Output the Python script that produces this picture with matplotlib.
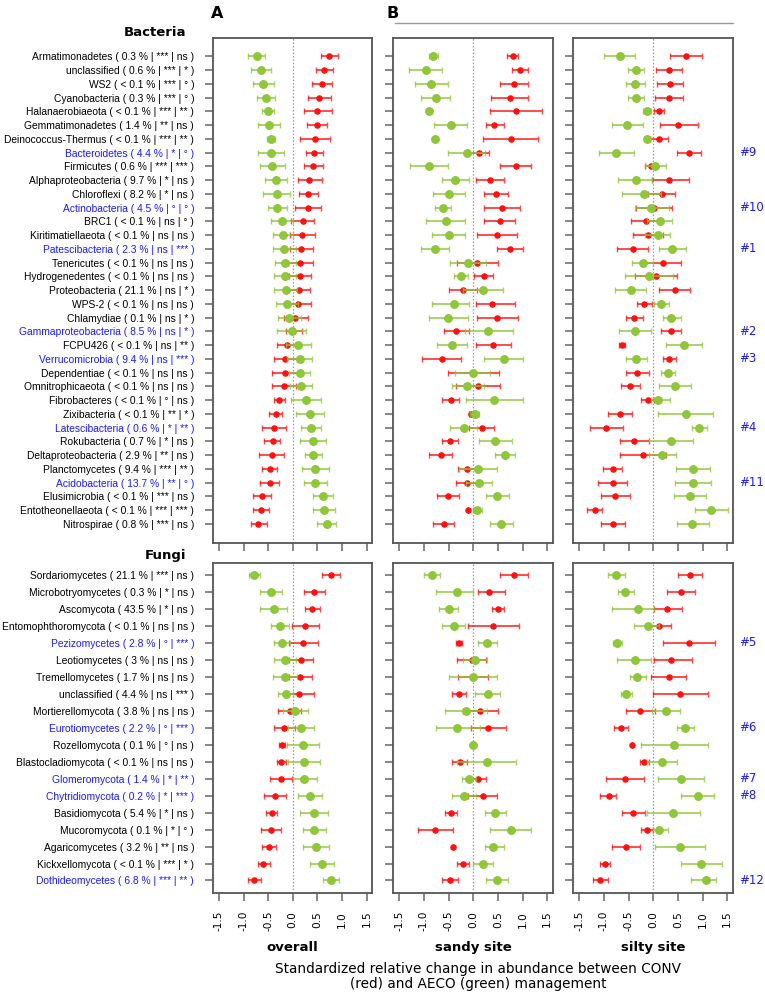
import numpy as np
import matplotlib
matplotlib.use("Agg")
import matplotlib.pyplot as plt
from matplotlib.transforms import blended_transform_factory

# ---- taxa labels: name, relative abundance, signif. sandy, signif. silty ----
bac_names = ["Armatimonadetes", "unclassified", "WS2", "Cyanobacteria", "Halanaerobiaeota",
             "Gemmatimonadetes", "Deinococcus-Thermus", "Bacteroidetes", "Firmicutes",
             "Alphaproteobacteria", "Chloroflexi", "Actinobacteria", "BRC1", "Kiritimatiellaeota",
             "Patescibacteria", "Tenericutes", "Hydrogenedentes", "Proteobacteria", "WPS-2",
             "Chlamydiae", "Gammaproteobacteria", "FCPU426", "Verrucomicrobia", "Dependentiae",
             "Omnitrophicaeota", "Fibrobacteres", "Zixibacteria", "Latescibacteria", "Rokubacteria",
             "Deltaproteobacteria", "Planctomycetes", "Acidobacteria", "Elusimicrobia",
             "Entotheonellaeota", "Nitrospirae"]
bac_abund = ["0.3", "0.6", "< 0.1", "0.3", "< 0.1", "1.4", "< 0.1", "4.4", "0.6", "9.7", "8.2",
             "4.5", "< 0.1", "< 0.1", "2.3", "< 0.1", "< 0.1", "21.1", "< 0.1", "0.1", "8.5",
             "< 0.1", "9.4", "< 0.1", "< 0.1", "< 0.1", "< 0.1", "0.6", "0.7", "2.9", "9.4",
             "13.7", "< 0.1", "< 0.1", "0.8"]
bac_sig1 = ["***", "***", "***", "***", "***", "**", "***", "*", "***", "*", "*", "°", "ns", "ns",
            "ns", "ns", "ns", "ns", "ns", "ns", "ns", "ns", "ns", "ns", "ns", "°", "**", "*", "*",
            "**", "***", "**", "***", "***", "***"]
bac_sig2 = ["ns", "*", "°", "°", "**", "ns", "**", "°", "***", "ns", "ns", "°", "°", "ns", "***",
            "ns", "ns", "*", "ns", "*", "*", "**", "***", "ns", "ns", "ns", "*", "**", "ns", "ns",
            "**", "°", "ns", "***", "ns"]
bac_blue = {8: "#9", 12: "#10", 15: "#1", 21: "#2", 23: "#3", 28: "#4", 32: "#11"}

fun_names = ["Sordariomycetes", "Microbotryomycetes", "Ascomycota", "Entomophthoromycota",
             "Pezizomycetes", "Leotiomycetes", "Tremellomycetes", "unclassified",
             "Mortierellomycota", "Eurotiomycetes", "Rozellomycota", "Blastocladiomycota",
             "Glomeromycota", "Chytridiomycota", "Basidiomycota", "Mucoromycota",
             "Agaricomycetes", "Kickxellomycota", "Dothideomycetes"]
fun_abund = ["21.1", "0.3", "43.5", "< 0.1", "2.8", "3", "1.7", "4.4", "3.8", "2.2", "0.1",
             "< 0.1", "1.4", "0.2", "5.4", "0.1", "3.2", "< 0.1", "6.8"]
fun_sig1 = ["***", "*", "*", "ns", "°", "ns", "ns", "ns", "ns", "°", "°", "ns", "*", "*", "*",
            "*", "**", "***", "***"]
fun_sig2 = ["ns", "ns", "ns", "ns", "***", "ns", "ns", "***", "ns", "***", "ns", "ns", "**",
            "***", "ns", "°", "ns", "*", "**"]
fun_blue = {5: "#5", 10: "#6", 13: "#7", 14: "#8", 19: "#12"}

# ---- effect estimates: (mean, lower, upper) ----
bac_all_red = [(0.74, 0.57, 0.91), (0.635, 0.47, 0.81), (0.59, 0.40, 0.79), (0.54, 0.30, 0.78),
               (0.50, 0.22, 0.79), (0.49, 0.28, 0.69), (0.45, 0.155, 0.75), (0.43, 0.26, 0.61),
               (0.41, 0.22, 0.615), (0.34, 0.10, 0.59), (0.32, 0.135, 0.52), (0.31, 0.055, 0.58),
               (0.20, -0.03, 0.44), (0.195, -0.05, 0.46), (0.175, -0.06, 0.42), (0.14, -0.10, 0.42),
               (0.15, -0.08, 0.38), (0.12, -0.11, 0.35), (0.10, -0.135, 0.365), (0.055, -0.175, 0.32),
               (0.015, -0.14, 0.18), (-0.115, -0.33, 0.10), (-0.15, -0.38, 0.08), (-0.155, -0.425, 0.10),
               (-0.175, -0.42, 0.07), (-0.28, -0.385, -0.15), (-0.35, -0.49, -0.21), (-0.38, -0.615, -0.135),
               (-0.41, -0.575, -0.25), (-0.425, -0.68, -0.17), (-0.465, -0.63, -0.31), (-0.47, -0.66, -0.27),
               (-0.62, -0.80, -0.44), (-0.64, -0.80, -0.49), (-0.70, -0.85, -0.53)]
bac_all_green = [(-0.736, -0.90, -0.57), (-0.65, -0.845, -0.45), (-0.595, -0.80, -0.39), (-0.55, -0.72, -0.365),
                 (-0.51, -0.615, -0.39), (-0.49, -0.71, -0.26), (-0.45, -0.53, -0.37), (-0.44, -0.70, -0.17),
                 (-0.42, -0.66, -0.16), (-0.35, -0.57, -0.12), (-0.33, -0.595, -0.06), (-0.32, -0.51, -0.115),
                 (-0.21, -0.45, 0.01), (-0.195, -0.41, 0.01), (-0.175, -0.41, 0.06), (-0.155, -0.36, 0.07),
                 (-0.155, -0.39, 0.07), (-0.135, -0.385, 0.095), (-0.115, -0.35, 0.115), (-0.075, -0.30, 0.16),
                 (-0.015, -0.32, 0.27), (0.11, -0.14, 0.365), (0.14, -0.11, 0.39), (0.15, -0.07, 0.345),
                 (0.17, -0.05, 0.40), (0.265, -0.04, 0.58), (0.35, 0.07, 0.635), (0.38, 0.175, 0.58),
                 (0.41, 0.14, 0.68), (0.42, 0.24, 0.60), (0.46, 0.195, 0.73), (0.46, 0.22, 0.70),
                 (0.615, 0.42, 0.81), (0.635, 0.42, 0.85), (0.69, 0.50, 0.88)]
bac_sandy_red = [(0.80, 0.68, 0.90), (0.945, 0.78, 1.115), (0.82, 0.55, 1.10), (0.74, 0.365, 1.10),
                 (0.865, 0.345, 1.39), (0.43, 0.25, 0.615), (0.76, 0.20, 1.32), (0.115, -0.08, 0.32),
                 (0.865, 0.55, 1.18), (0.34, 0.055, 0.63), (0.465, 0.22, 0.71), (0.58, 0.22, 0.95),
                 (0.535, 0.22, 0.85), (0.48, 0.07, 0.89), (0.74, 0.49, 1.0), (0.08, -0.32, 0.50),
                 (0.21, 0.02, 0.405), (-0.215, -0.495, 0.07), (0.38, 0.05, 0.84), (0.49, 0.07, 0.91),
                 (-0.34, -0.59, -0.095), (0.405, 0.055, 0.77), (-0.64, -1.03, -0.25), (-0.01, -0.52, 0.53),
                 (0.095, -0.345, 0.55), (-0.46, -0.635, -0.28), (-0.055, -0.08, -0.02), (0.175, -0.08, 0.425),
                 (-0.47, -0.63, -0.31), (-0.66, -0.89, -0.43), (-0.13, -0.30, 0.07), (-0.13, -0.345, 0.09),
                 (-0.505, -0.73, -0.28), (-0.11, -0.11, -0.11), (-0.595, -0.81, -0.38)]
bac_sandy_green = [(-0.81, -0.905, -0.71), (-0.965, -1.30, -0.63), (-0.85, -1.19, -0.51), (-0.76, -1.05, -0.465),
                   (-0.89, -0.93, -0.85), (-0.45, -0.79, -0.12), (-0.78, -0.78, -0.78), (-0.135, -0.505, 0.23),
                   (-0.89, -1.28, -0.505), (-0.36, -0.635, -0.08), (-0.49, -0.825, -0.16), (-0.61, -0.765, -0.445),
                   (-0.555, -0.95, -0.16), (-0.50, -0.83, -0.175), (-0.765, -1.055, -0.49), (-0.11, -0.48, 0.26),
                   (-0.245, -0.385, -0.10), (0.19, -0.20, 0.595), (-0.40, -0.845, -0.08), (-0.515, -0.905, -0.115),
                   (0.30, -0.17, 0.80), (-0.44, -0.73, -0.135), (0.615, 0.215, 1.01), (-0.01, -0.365, 0.34),
                   (-0.12, -0.44, 0.21), (0.43, -0.15, 1.01), (0.03, -0.07, 0.12), (-0.195, -0.47, 0.07),
                   (0.45, 0.12, 0.78), (0.635, 0.445, 0.84), (0.10, -0.28, 0.48), (0.11, -0.15, 0.38),
                   (0.48, 0.25, 0.72), (0.08, -0.01, 0.18), (0.57, 0.345, 0.80)]
bac_silty_red = [(0.66, 0.345, 0.98), (0.325, 0.06, 0.59), (0.34, 0.08, 0.60), (0.325, 0.04, 0.61),
                 (0.115, 0.015, 0.22), (0.51, 0.135, 0.90), (0.115, -0.06, 0.30), (0.73, 0.49, 0.97),
                 (-0.055, -0.175, 0.07), (0.325, -0.03, 0.715), (0.17, -0.115, 0.445), (0.02, -0.34, 0.385),
                 (-0.15, -0.46, 0.16), (-0.11, -0.41, 0.20), (-0.41, -0.73, -0.10), (0.19, -0.17, 0.57),
                 (0.06, -0.365, 0.49), (0.44, 0.12, 0.75), (-0.18, -0.32, -0.03), (-0.385, -0.55, -0.215),
                 (0.35, 0.16, 0.555), (-0.64, -0.69, -0.565), (0.325, 0.19, 0.47), (-0.32, -0.545, -0.08),
                 (-0.47, -0.66, -0.26), (-0.11, -0.245, 0.01), (-0.68, -0.91, -0.43), (-0.95, -1.275, -0.62),
                 (-0.38, -0.67, -0.08), (-0.20, -0.675, 0.26), (-0.82, -1.01, -0.63), (-0.82, -1.115, -0.53),
                 (-0.765, -1.055, -0.465), (-1.19, -1.35, -1.03), (-0.815, -1.05, -0.58)]
bac_silty_green = [(-0.68, -1.0, -0.37), (-0.35, -0.51, -0.195), (-0.36, -0.55, -0.17), (-0.345, -0.51, -0.18),
                   (-0.135, -0.215, -0.055), (-0.53, -0.845, -0.215), (-0.135, -0.135, -0.135), (-0.75, -1.10, -0.39),
                   (0.04, -0.175, 0.26), (-0.345, -0.71, -0.03), (-0.19, -0.63, 0.155), (-0.04, -0.37, 0.32),
                   (0.13, -0.13, 0.385), (0.09, -0.16, 0.345), (0.39, 0.115, 0.67), (-0.21, -0.425, 0.0),
                   (-0.08, -0.575, 0.405), (-0.46, -0.78, -0.14), (0.16, 0.015, 0.31), (0.365, 0.19, 0.555),
                   (-0.37, -0.70, -0.05), (0.62, 0.26, 0.985), (-0.345, -0.545, -0.135), (0.295, 0.15, 0.45),
                   (0.44, 0.12, 0.77), (0.09, -0.04, 0.33), (0.655, 0.095, 1.22), (0.935, 0.78, 1.095),
                   (0.36, -0.08, 0.80), (0.18, -0.08, 0.46), (0.80, 0.465, 1.15), (0.80, 0.44, 1.17),
                   (0.745, 0.42, 1.06), (1.17, 0.85, 1.505), (0.79, 0.475, 1.13)]

fun_all_red = [(0.78, 0.60, 0.96), (0.43, 0.22, 0.655), (0.39, 0.245, 0.55), (0.25, -0.02, 0.54),
               (0.21, -0.08, 0.505), (0.16, -0.08, 0.42), (0.155, -0.08, 0.39), (0.13, -0.155, 0.425),
               (-0.06, -0.29, 0.175), (-0.175, -0.39, 0.05), (-0.215, -0.27, -0.155), (-0.23, -0.31, -0.14),
               (-0.245, -0.47, -0.01), (-0.36, -0.575, -0.14), (-0.425, -0.545, -0.31), (-0.445, -0.65, -0.245),
               (-0.49, -0.62, -0.34), (-0.595, -0.71, -0.47), (-0.78, -0.905, -0.64)]
fun_all_green = [(-0.78, -0.89, -0.675), (-0.44, -0.67, -0.215), (-0.39, -0.675, -0.115), (-0.255, -0.44, -0.08),
                 (-0.215, -0.385, -0.06), (-0.16, -0.39, 0.07), (-0.16, -0.41, 0.09), (-0.135, -0.305, 0.015),
                 (0.047, -0.19, 0.32), (0.17, -0.09, 0.43), (0.21, -0.11, 0.54), (0.22, -0.095, 0.555),
                 (0.235, 0.0, 0.49), (0.36, 0.115, 0.595), (0.425, 0.14, 0.715), (0.44, 0.21, 0.68),
                 (0.48, 0.215, 0.745), (0.59, 0.345, 0.845), (0.77, 0.61, 0.945)]
fun_sandy_red = [(0.83, 0.55, 1.11), (0.32, 0.10, 0.64), (0.50, 0.38, 0.615), (0.405, -0.11, 0.92),
                 (-0.285, -0.34, -0.23), (-0.035, -0.33, 0.25), (0.0, -0.30, 0.30), (-0.285, -0.43, -0.14),
                 (0.13, -0.21, 0.50), (0.30, -0.05, 0.67), (0.0, 0.0, 0.0), (-0.27, -0.425, -0.12),
                 (0.09, -0.08, 0.26), (0.19, -0.10, 0.48), (-0.445, -0.575, -0.32), (-0.765, -1.12, -0.42),
                 (-0.42, -0.42, -0.42), (-0.205, -0.32, -0.09), (-0.48, -0.64, -0.31)]
fun_sandy_green = [(-0.845, -0.99, -0.68), (-0.32, -0.75, 0.0), (-0.49, -0.695, -0.30), (-0.40, -0.64, -0.16),
                   (0.28, 0.09, 0.49), (0.035, -0.20, 0.28), (0.0, -0.49, 0.48), (0.29, 0.04, 0.54),
                   (-0.14, -0.57, 0.28), (-0.32, -0.76, 0.13), (0.0, 0.0, 0.0), (0.28, -0.32, 0.865),
                   (-0.09, -0.23, 0.06), (-0.18, -0.43, 0.06), (0.445, 0.23, 0.67), (0.76, 0.345, 1.17),
                   (0.41, 0.23, 0.62), (0.19, -0.01, 0.41), (0.48, 0.25, 0.70)]
fun_silty_red = [(0.74, 0.50, 0.98), (0.56, 0.27, 0.85), (0.285, 0.02, 0.575), (0.11, -0.12, 0.36),
                 (0.72, 0.19, 1.26), (0.35, 0.01, 0.78), (0.31, -0.055, 0.67), (0.545, -0.015, 1.11),
                 (-0.265, -0.56, 0.04), (-0.66, -0.80, -0.52), (-0.43, -0.43, -0.43), (-0.18, -0.27, -0.09),
                 (-0.575, -0.95, -0.19), (-0.905, -1.07, -0.745), (-0.405, -0.64, -0.175), (-0.13, -0.25, -0.01),
                 (-0.55, -0.83, -0.27), (-0.98, -1.07, -0.885), (-1.075, -1.22, -0.92)]
fun_silty_green = [(-0.745, -0.91, -0.57), (-0.57, -0.72, -0.40), (-0.30, -0.83, 0.02), (-0.115, -0.38, 0.12),
                   (-0.73, -0.82, -0.635), (-0.36, -0.73, -0.055), (-0.32, -0.465, -0.155), (-0.555, -0.66, -0.43),
                   (0.25, -0.02, 0.55), (0.65, 0.49, 0.825), (0.42, -0.25, 1.10), (0.175, -0.13, 0.485),
                   (0.57, 0.10, 1.035), (0.90, 0.57, 1.235), (0.405, -0.13, 0.94), (0.12, -0.01, 0.30),
                   (0.54, 0.03, 1.05), (0.97, 0.555, 1.40), (1.07, 0.76, 1.28)]

xticks = [-1.5, -1.0, -0.5, 0.0, 0.5, 1.0, 1.5]
xticklabels = ["-1.5", "-1.0", "-0.5", "0.0", "0.5", "1.0", "1.5"]

RED = "#ff1010"
GREEN = "#8fc63a"
BLUE = "#1a1aff"
FRAME = "#555555"

W, H = 765, 996
fig = plt.figure(figsize=(W / 100, H / 100), dpi=100)


def px_axes(x0, x1, y0, y1):
    return fig.add_axes([x0 / W, 1 - y1 / H, (x1 - x0) / W, (y1 - y0) / H])


def draw_panel(ax, red, green, n):
    y = np.arange(1, n + 1)
    for data, col, ms, z in [(red, RED, 3.7, 3), (green, GREEN, 5.4, 4)]:
        arr = np.array(data)
        m, lo, hi = arr[:, 0], arr[:, 1], arr[:, 2]
        ax.errorbar(m, y, xerr=[m - lo, hi - m], fmt="none", ecolor=col, elinewidth=1.4,
                    capsize=2.2, capthick=1.0, alpha=0.75, zorder=z)
        ax.plot(m, y, "o", color=col, ms=ms, mec=col, zorder=z + 0.5)
    ax.axvline(0, color="#999999", ls=(0, (1.2, 1.5)), lw=0.9, zorder=1)
    ax.set_xlim(-1.62, 1.61)
    pad = (n - 1) * 0.04
    ax.set_ylim(n + pad, 1 - pad)
    ax.set_yticks(y)
    ax.set_xticks(xticks)
    for s in ax.spines.values():
        s.set_color(FRAME)
        s.set_linewidth(1.3)
    ax.tick_params(axis="both", direction="out", length=6, width=1.1, color="#666666")


cols = [(213, 372), (393.3, 552.7), (573.3, 732.7)]
bac_rows = [(bac_all_red, bac_all_green), (bac_sandy_red, bac_sandy_green), (bac_silty_red, bac_silty_green)]
fun_rows = [(fun_all_red, fun_all_green), (fun_sandy_red, fun_sandy_green), (fun_silty_red, fun_silty_green)]
titles = ["overall", "sandy site", "silty site"]

bac_labels = [f"{n} ( {a} % | {s1} | {s2} )" for n, a, s1, s2 in zip(bac_names, bac_abund, bac_sig1, bac_sig2)]
fun_labels = [f"{n} ( {a} % | {s1} | {s2} )" for n, a, s1, s2 in zip(fun_names, fun_abund, fun_sig1, fun_sig2)]

for j, (x0, x1) in enumerate(cols):
    axb = px_axes(x0, x1, 37.7, 542.7)
    draw_panel(axb, *bac_rows[j], len(bac_names))
    axb.set_xticklabels([])
    axf = px_axes(x0, x1, 562.7, 892.7)
    draw_panel(axf, *fun_rows[j], len(fun_names))
    axf.set_xticklabels(xticklabels, rotation=90, fontsize=7.6, family="DejaVu Sans")
    axf.tick_params(axis="x", pad=7)
    axf.set_xlabel(titles[j], fontsize=9.5, fontweight="bold", family="DejaVu Sans", labelpad=7)
    if j == 0:
        for ax, labels, blue in [(axb, bac_labels, bac_blue), (axf, fun_labels, fun_blue)]:
            ax.set_yticklabels(labels, fontsize=7.4, family="Liberation Sans")
            for i, t in enumerate(ax.get_yticklabels()):
                if (i + 1) in blue:
                    t.set_color(BLUE)
            ax.tick_params(axis="y", pad=7.5)
    else:
        axb.set_yticklabels([])
        axf.set_yticklabels([])
    if j == 2:
        for ax, blue in [(axb, bac_blue), (axf, fun_blue)]:
            tr = blended_transform_factory(ax.transAxes, ax.transData)
            for row, tag in blue.items():
                ax.text(1.04, row, tag, transform=tr, color=BLUE, fontsize=8.5,
                        family="DejaVu Sans", va="center", ha="left")

fig.text(186 / W, 1 - 32 / H, "Bacteria", fontsize=9.5, fontweight="bold", ha="right", va="center")
fig.text(186 / W, 1 - 555 / H, "Fungi", fontsize=9.5, fontweight="bold", ha="right", va="center")
fig.text(211 / W, 1 - 13 / H, "A", fontsize=11.5, fontweight="bold", ha="left", va="center")
fig.text(386 / W, 1 - 13 / H, "B", fontsize=11.5, fontweight="bold", ha="left", va="center")
fig.add_artist(plt.Line2D([395 / W, 733 / W], [1 - 23.3 / H, 1 - 23.3 / H], color="#999999", lw=1.0))
fig.text(478 / W, 1 - 976.5 / H,
         "Standardized relative change in abundance between CONV\n(red) and AECO (green) management",
         fontsize=9.8, ha="center", va="center", linespacing=1.1, family="DejaVu Sans")

fig.savefig("out.png", dpi=100)
